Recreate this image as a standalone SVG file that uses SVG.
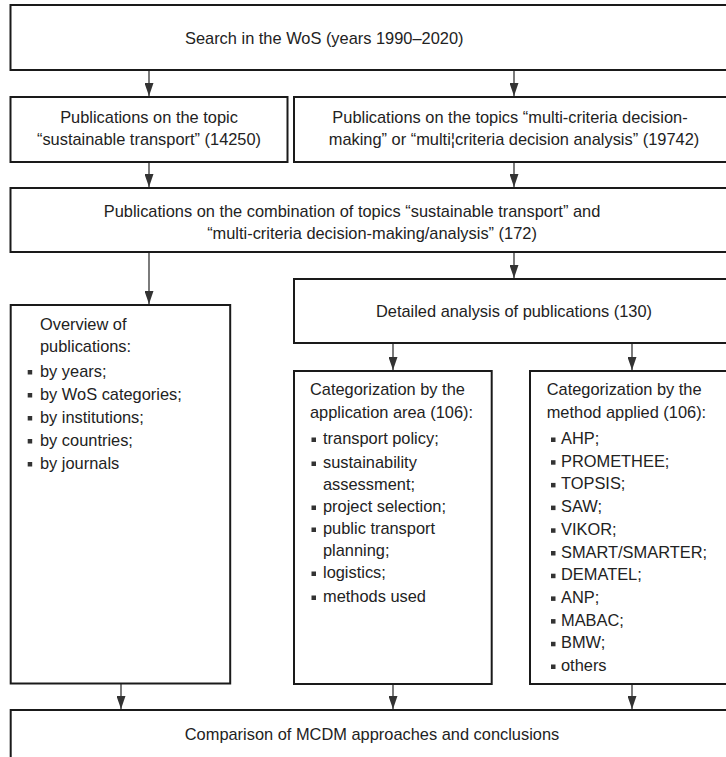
<svg xmlns="http://www.w3.org/2000/svg" width="726" height="757" viewBox="0 0 726 757">
<defs>
<marker id="ah" viewBox="0 0 13 9" refX="13" refY="4.5" markerWidth="13" markerHeight="9" markerUnits="userSpaceOnUse" orient="auto">
<path d="M0,0 L13,4.5 L0,9 Z" fill="#333"/>
</marker>
<style>
.box{fill:#fff;stroke:#1a1a1a;stroke-width:2}
.t{font-family:"Liberation Sans",Arial,sans-serif;font-size:16.4px;fill:#222}
.m{text-anchor:middle}
.c{stroke:#444;stroke-width:1.4;fill:none;marker-end:url(#ah)}
.b{fill:#333}
</style>
</defs>
<rect width="726" height="757" fill="#fff"/>
<g id="connectors">
<line class="c" x1="149" y1="70" x2="149" y2="96"/>
<line class="c" x1="514" y1="70" x2="514" y2="96"/>
<line class="c" x1="149" y1="162" x2="149" y2="187"/>
<line class="c" x1="514" y1="162" x2="514" y2="187"/>
<line class="c" x1="149" y1="252" x2="149" y2="304"/>
<line class="c" x1="514" y1="252" x2="514" y2="278"/>
<line class="c" x1="393" y1="343" x2="393" y2="370"/>
<line class="c" x1="632" y1="343" x2="632" y2="370"/>
<line class="c" x1="121" y1="684" x2="121" y2="709"/>
<line class="c" x1="393" y1="684" x2="393" y2="709"/>
<line class="c" x1="632" y1="684" x2="632" y2="709"/>
</g>
<g id="search">
<rect class="box" x="10.5" y="5" width="730" height="65"/>
<text class="t" x="185" y="44">Search in the WoS  (years 1990–2020)</text>
</g>
<g id="topic-st">
<rect class="box" x="10.5" y="97" width="277" height="65"/>
<text class="t m" x="149" y="123">Publications on the topic</text>
<text class="t m" x="149" y="145">“sustainable transport” (14250)</text>
</g>
<g id="topic-mcdm">
<rect class="box" x="294" y="97" width="446" height="65"/>
<text class="t m" x="510" y="123">Publications on the topics  “multi-criteria decision-</text>
<text class="t m" x="514" y="145">making” or “multi¦criteria decision analysis” (19742)</text>
</g>
<g id="combination">
<rect class="box" x="10.5" y="188" width="730" height="64"/>
<text class="t m" x="352" y="217">Publications on the combination of topics “sustainable transport” and</text>
<text class="t m" x="372" y="239">“multi-criteria decision-making/analysis” (172)</text>
</g>
<g id="overview">
<rect class="box" x="10.7" y="305" width="219.5" height="378.5"/>
<text class="t" x="40" y="330">Overview of</text>
<text class="t" x="40" y="351.5">publications:</text>
<rect class="b" x="27.7" y="370" width="4.5" height="4.5"/><text class="t" x="40" y="376.5">by years;</text>
<rect class="b" x="27.7" y="393" width="4.5" height="4.5"/><text class="t" x="40" y="399.5">by WoS categories;</text>
<rect class="b" x="27.7" y="416" width="4.5" height="4.5"/><text class="t" x="40" y="422.5">by institutions;</text>
<rect class="b" x="27.7" y="439" width="4.5" height="4.5"/><text class="t" x="40" y="445.5">by countries;</text>
<rect class="b" x="27.7" y="462" width="4.5" height="4.5"/><text class="t" x="40" y="468.5">by journals</text>
</g>
<g id="detailed">
<rect class="box" x="294" y="279" width="446" height="64"/>
<text class="t m" x="514" y="317">Detailed analysis of publications (130)</text>
</g>
<g id="application">
<rect class="box" x="294" y="371" width="197.7" height="313"/>
<text class="t" x="310" y="395">Categorization by the</text>
<text class="t" x="310" y="417.5">application area (106):</text>
<rect class="b" x="311.5" y="437.5" width="4.5" height="4.5"/><text class="t" x="323" y="444">transport policy;</text>
<rect class="b" x="311.5" y="461.5" width="4.5" height="4.5"/><text class="t" x="323" y="468">sustainability</text>
<text class="t" x="323" y="489.5">assessment;</text>
<rect class="b" x="311.5" y="505.5" width="4.5" height="4.5"/><text class="t" x="323" y="512">project selection;</text>
<rect class="b" x="311.5" y="527.5" width="4.5" height="4.5"/><text class="t" x="323" y="534">public transport</text>
<text class="t" x="323" y="555.5">planning;</text>
<rect class="b" x="311.5" y="571.5" width="4.5" height="4.5"/><text class="t" x="323" y="578">logistics;</text>
<rect class="b" x="311.5" y="595.5" width="4.5" height="4.5"/><text class="t" x="323" y="602">methods used</text>
</g>
<g id="method">
<rect class="box" x="530" y="371" width="210" height="313"/>
<text class="t" x="546.7" y="395">Categorization by the</text>
<text class="t" x="546.7" y="417.5">method applied (106):</text>
<rect class="b" x="551" y="437.5" width="4.5" height="4.5"/><text class="t" x="561" y="444">AHP;</text>
<rect class="b" x="551" y="460.2" width="4.5" height="4.5"/><text class="t" x="561" y="466.7">PROMETHEE;</text>
<rect class="b" x="551" y="482.9" width="4.5" height="4.5"/><text class="t" x="561" y="489.4">TOPSIS;</text>
<rect class="b" x="551" y="505.6" width="4.5" height="4.5"/><text class="t" x="561" y="512.1">SAW;</text>
<rect class="b" x="551" y="528.3" width="4.5" height="4.5"/><text class="t" x="561" y="534.8">VIKOR;</text>
<rect class="b" x="551" y="551" width="4.5" height="4.5"/><text class="t" x="561" y="557.5">SMART/SMARTER;</text>
<rect class="b" x="551" y="573.7" width="4.5" height="4.5"/><text class="t" x="561" y="580.2">DEMATEL;</text>
<rect class="b" x="551" y="596.4" width="4.5" height="4.5"/><text class="t" x="561" y="602.9">ANP;</text>
<rect class="b" x="551" y="619.1" width="4.5" height="4.5"/><text class="t" x="561" y="625.6">MABAC;</text>
<rect class="b" x="551" y="641.8" width="4.5" height="4.5"/><text class="t" x="561" y="648.3">BMW;</text>
<rect class="b" x="551" y="664.5" width="4.5" height="4.5"/><text class="t" x="561" y="671">others</text>
</g>
<g id="comparison">
<rect class="box" x="10.7" y="710" width="730" height="60"/>
<text class="t m" x="372" y="740">Comparison of MCDM approaches and conclusions</text>
</g>
</svg>
